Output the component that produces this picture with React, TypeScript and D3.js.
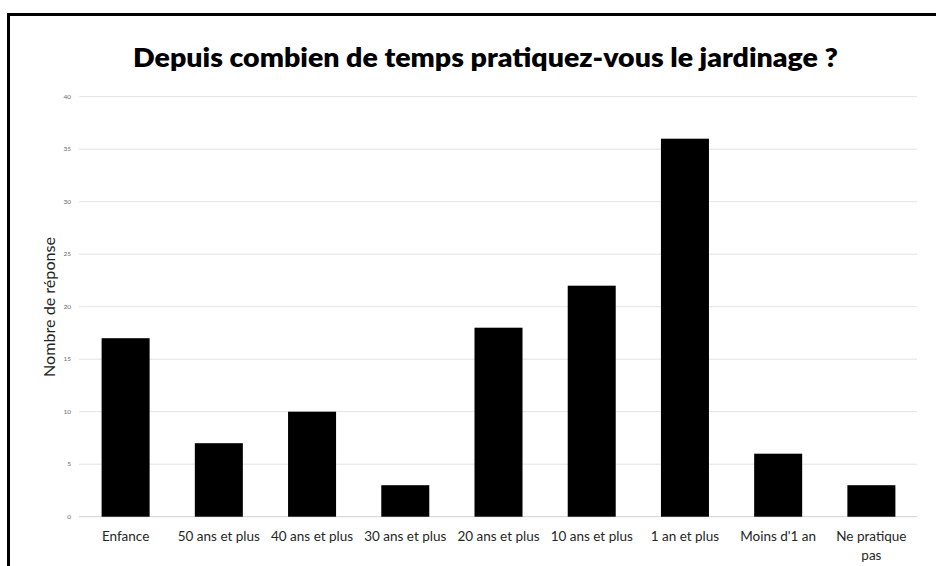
import React from "react";
import * as d3 from "d3";

const categories = [
  "Enfance",
  "50 ans et plus",
  "40 ans et plus",
  "30 ans et plus",
  "20 ans et plus",
  "10 ans et plus",
  "1 an et plus",
  "Moins d'1 an",
  "Ne pratique pas",
];
const values = [17, 7, 10, 3, 18, 22, 36, 6, 3];
const yTicks = [0, 5, 10, 15, 20, 25, 30, 35, 40];
const title = "Depuis combien de temps pratiquez-vous le jardinage ?";
const yTitle = "Nombre de réponse";

const W = 936;
const H = 566;
const FONT = "Lato, 'Open Sans', 'DejaVu Sans', sans-serif";

export default function App() {
  const x = d3
    .scaleBand<string>()
    .domain(categories)
    .range([79, 918])
    .paddingInner(0.485)
    .paddingOuter(0.2425);
  const y = d3.scaleLinear().domain([0, 40]).range([516.7, 96.7]);

  const wrapLabel = (s: string) => (s === "Ne pratique pas" ? ["Ne pratique", "pas"] : [s]);

  return (
    <svg
      width={W}
      height={H}
      style={{ position: "absolute", left: 0, top: 0, background: "#fff" }}
      fontFamily={FONT}
    >
      <rect x={0} y={0} width={W} height={H} fill="#fff" />
      {/* frame */}
      <rect x={8.5} y={14.5} width={W + 20} height={H + 20} fill="none" stroke="#000" strokeWidth={3} />
      {/* title */}
      <text
        x={485.5}
        y={66.5}
        textAnchor="middle"
        fontSize={27}
        fontWeight={800}
        fill="#000"
        textLength={705}
        lengthAdjust="spacingAndGlyphs"
      >
        {title}
      </text>
      {/* gridlines */}
      {yTicks.map((t) => (
        <g key={t}>
          <line
            x1={79}
            x2={917}
            y1={y(t)}
            y2={y(t)}
            stroke={t === 0 ? "#d0d0d0" : "#e3e3e3"}
            strokeWidth={1}
          />
          <text x={71} y={y(t) + 2.2} textAnchor="end" fontSize={6.5} fill="#6a6a6a">
            {t}
          </text>
        </g>
      ))}
      {/* bars */}
      {categories.map((c, i) => (
        <rect
          key={c}
          x={x(c)!}
          y={y(values[i])}
          width={x.bandwidth()}
          height={y(0) - y(values[i])}
          fill="#000"
        />
      ))}
      {/* x labels */}
      {categories.map((c) =>
        wrapLabel(c).map((line, j) => (
          <text
            key={c + j}
            x={x(c)! + x.bandwidth() / 2}
            y={541 + j * 19}
            textAnchor="middle"
            fontSize={13.5}
            fill="#262626"
          >
            {line}
          </text>
        ))
      )}
      {/* y title */}
      <text
        transform={`translate(55,307) rotate(-90)`}
        textAnchor="middle"
        fontSize={14.5}
        fill="#222"
        textLength={140}
        lengthAdjust="spacingAndGlyphs"
      >
        {yTitle}
      </text>
    </svg>
  );
}
